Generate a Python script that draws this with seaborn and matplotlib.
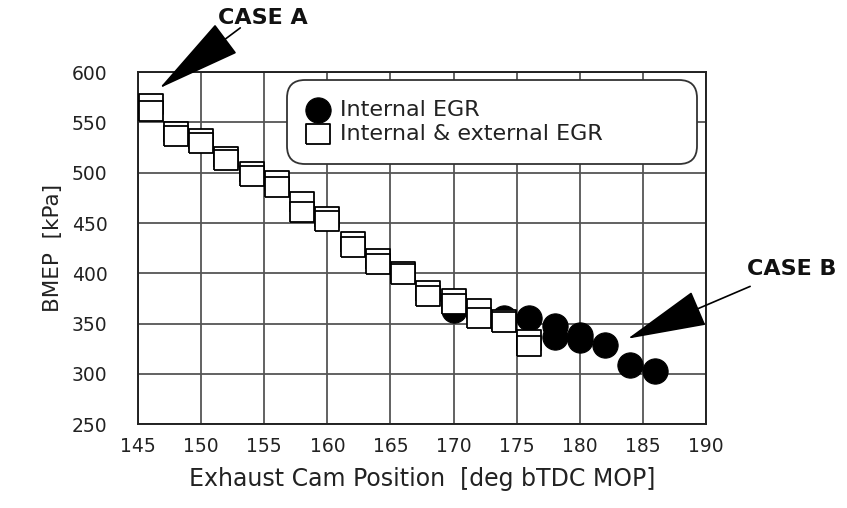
import seaborn as sns
import matplotlib.pyplot as plt
from matplotlib.ticker import MultipleLocator

# Internal EGR (filled circles)
circ_x = [170, 174, 176, 178, 178, 180, 180, 182, 184, 186]
circ_y = [364, 356, 356, 348, 337, 339, 334, 329, 309, 303]

# Internal & external EGR (open squares), two overlapping runs per cam position
sq_x = [146, 146, 148, 148, 150, 150, 152, 152, 154, 154, 156, 156, 158, 158,
        160, 160, 162, 162, 164, 164, 166, 166, 168, 168, 170, 170, 172, 172,
        174, 174, 176, 176]
sq_y = [568, 561, 540, 537, 534, 530, 516, 513, 501, 497, 492, 486, 471, 461,
        456, 452, 431, 426, 414, 409, 401, 399, 382, 377, 374, 369, 365, 356,
        354, 352, 334, 328]

x_ticks = list(range(145, 191, 5))
y_ticks = list(range(250, 601, 50))

sns.set_style("white")
plt.rcParams['font.family'] = ['DejaVu Sans']

fig, ax = plt.subplots(figsize=(8.47, 5.08), dpi=100)
fig.subplots_adjust(left=0.163, right=0.8335, bottom=0.165, top=0.858)

# the squares in the original are a touch wider than tall
box = [(-1.2, -1), (1.2, -1), (1.2, 1), (-1.2, 1), (-1.2, -1)]

sns.scatterplot(x=circ_x, y=circ_y, marker='o', s=330, color='black',
                edgecolor='black', linewidth=0.8, ax=ax,
                label='Internal EGR', zorder=3)
sns.scatterplot(x=sq_x, y=sq_y, marker=box, s=310, color='white',
                edgecolor='black', linewidth=1.3, ax=ax,
                label='Internal & external EGR', zorder=4)

ax.set_xlim(145, 190)
ax.set_ylim(250, 600)
ax.set_xticks(x_ticks)
ax.set_yticks(y_ticks)
ax.xaxis.set_minor_locator(MultipleLocator(2.5))
ax.yaxis.set_minor_locator(MultipleLocator(25))

ax.set_axisbelow(True)
ax.grid(True, which='major', color='#555555', lw=1.3)
for sp in ax.spines.values():
    sp.set_color('#222222')
    sp.set_linewidth(1.4)

ax.tick_params(axis='both', which='major', direction='out', width=1.3,
               labelsize=13.5, colors='#222222')
ax.tick_params(axis='y', which='major', length=17, pad=5)
ax.tick_params(axis='y', which='minor', length=7, width=1.2, direction='out')
ax.tick_params(axis='x', which='major', length=7, pad=2)
ax.tick_params(axis='x', which='minor', length=5, width=1.2, direction='out')

ax.set_xlabel("Exhaust Cam Position  [deg bTDC MOP]", fontsize=17,
              color='#222222', labelpad=8)
ax.set_ylabel("BMEP  [kPa]", fontsize=15.5, color='#222222', labelpad=6)

leg = ax.legend(loc='upper left', bbox_to_anchor=(0.262, 0.730, 0.722, 0.247),
                mode='expand', borderaxespad=0, fontsize=16, borderpad=0.9,
                labelspacing=0.15, handlelength=1.0, handletextpad=0.5,
                frameon=True, fancybox=True, framealpha=1)
frame = leg.get_frame()
frame.set_boxstyle('round', pad=0, rounding_size=0.8)
frame.set_edgecolor('#333333')
frame.set_linewidth(1.3)
for t in leg.get_texts():
    t.set_color('#222222')

# case annotations
ax.text(154.9, 654, "CASE A", ha='center', va='center', fontsize=16,
        fontweight='bold', color='#111111', clip_on=False)
ax.annotate("", xy=(146.7, 584), xytext=(153.1, 644),
            arrowprops=dict(arrowstyle='-|>,head_length=2.8,head_width=0.6',
                            color='black', lw=1.2, mutation_scale=20,
                            shrinkA=0, shrinkB=0),
            annotation_clip=False)

ax.text(196.8, 404, "CASE B", ha='center', va='center', fontsize=16,
        fontweight='bold', color='#111111', clip_on=False)
ax.annotate("", xy=(183.8, 335), xytext=(193.5, 387),
            arrowprops=dict(arrowstyle='-|>,head_length=2.6,head_width=0.6',
                            color='black', lw=1.2, mutation_scale=20,
                            shrinkA=0, shrinkB=0),
            annotation_clip=False)

plt.savefig("out.png", dpi=100)
